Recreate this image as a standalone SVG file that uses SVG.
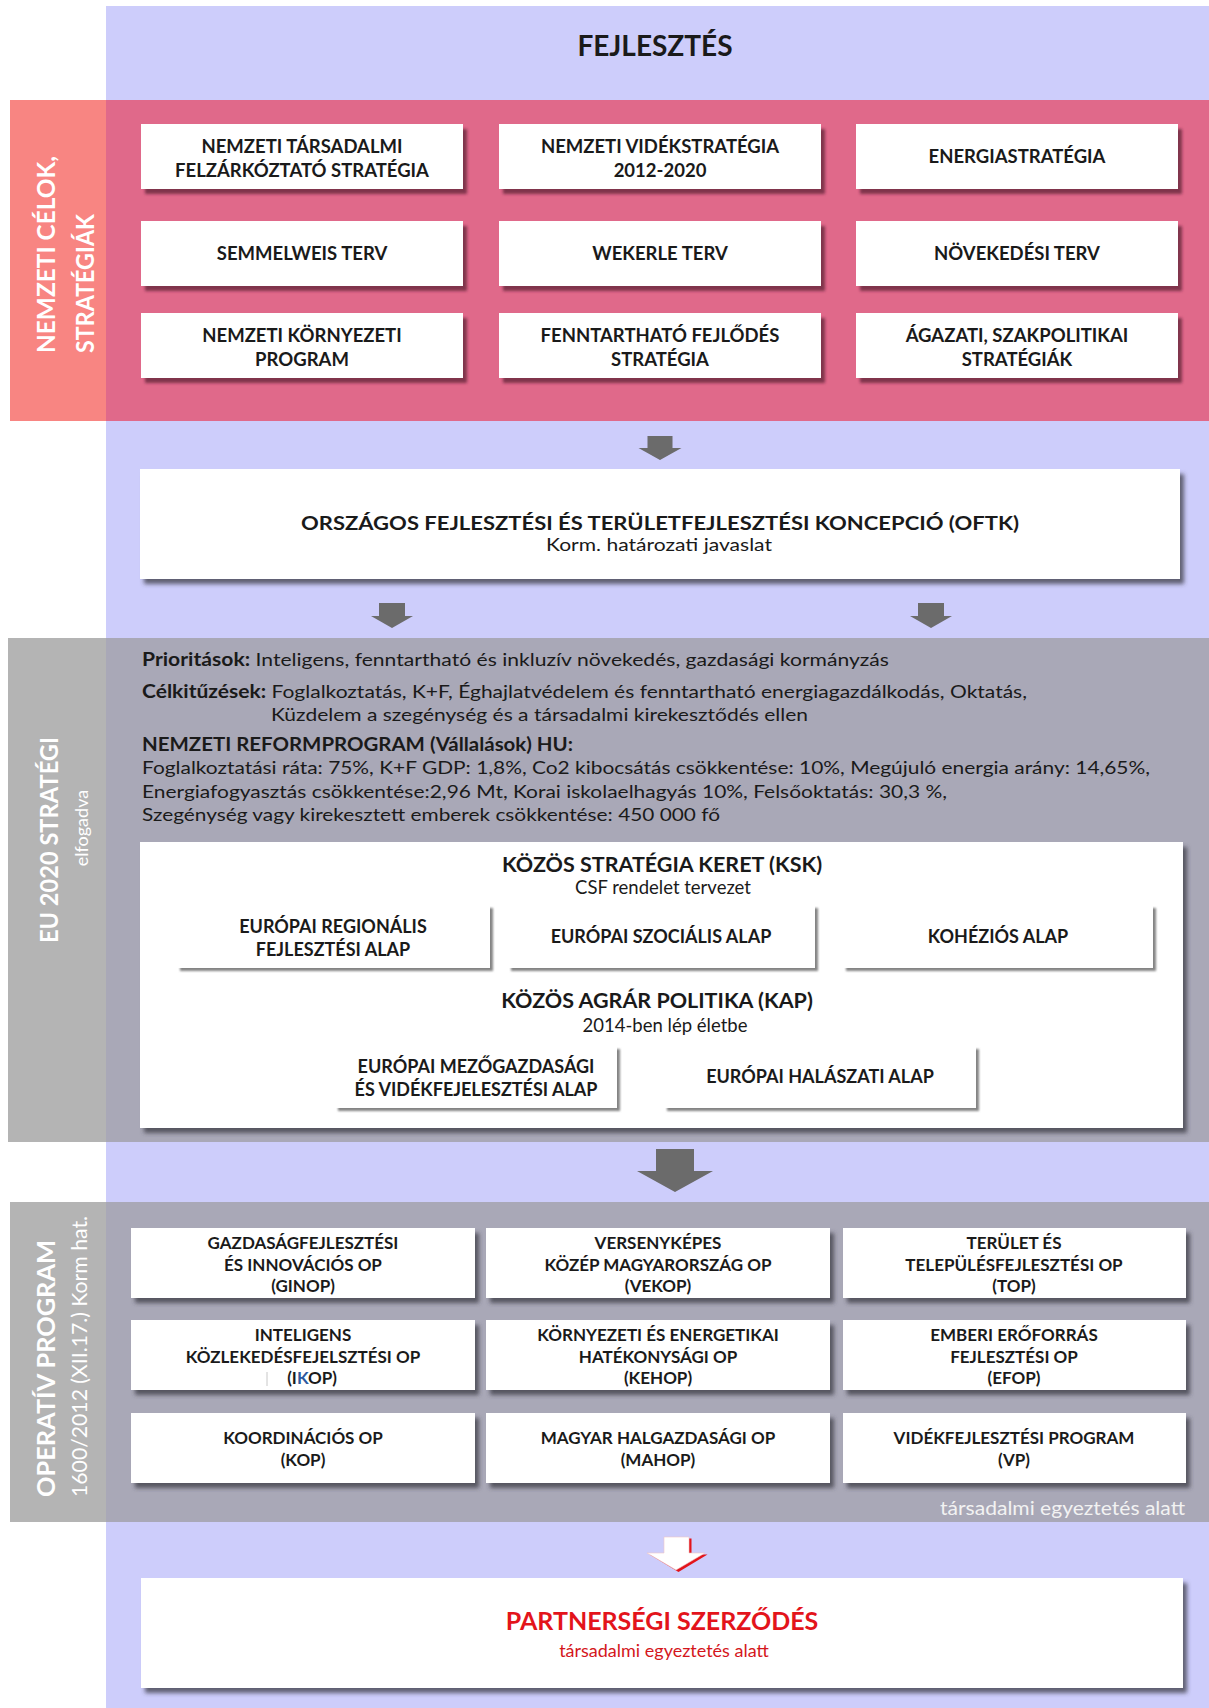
<svg xmlns="http://www.w3.org/2000/svg" width="1209" height="1708" viewBox="0 0 1209 1708">
<defs>
<style>
text{font-family:Lato,"Open Sans","Liberation Sans",sans-serif;fill:#1a1a1a}
.b{font-weight:bold}
.pt{font-size:18.5px;font-weight:bold;text-anchor:middle}
.ot{font-size:17px;font-weight:bold;text-anchor:middle}
.kt{font-size:18px;font-weight:bold;text-anchor:middle}
.et{font-size:18px}
.lab{fill:#ffffff}
.pbox{fill:#ffffff;filter:url(#shP)}
.gbox{fill:#ffffff;filter:url(#shG)}
.ibox{fill:#ffffff;filter:url(#shI)}
.arr{fill:#6b6b6b}
</style>
<filter id="shP" x="-5%" y="-10%" width="115%" height="130%"><feDropShadow dx="4" dy="5" stdDeviation="1.6" flood-color="#5e2236" flood-opacity="0.75"/></filter>
<filter id="shG" x="-5%" y="-10%" width="115%" height="130%"><feDropShadow dx="4" dy="5" stdDeviation="2" flood-color="#3a3a44" flood-opacity="0.75"/></filter>
<filter id="shI" x="-5%" y="-10%" width="115%" height="130%"><feDropShadow dx="3" dy="3" stdDeviation="1.3" flood-color="#666666" flood-opacity="0.8"/></filter>
</defs>

<g id="background">
<rect x="106" y="6" width="1103" height="1702" fill="#cdcdfb"/>
<rect x="10" y="100" width="96" height="321" fill="#f88582"/>
<rect x="106" y="100" width="1103" height="321" fill="#e0698a"/>
<rect x="8" y="638" width="98" height="504" fill="#b4b4b4"/>
<rect x="106" y="638" width="1103" height="504" fill="#a9a8b7"/>
<rect x="10" y="1202" width="96" height="320" fill="#b4b4b4"/>
<rect x="106" y="1202" width="1103" height="320" fill="#a9a8b7"/>
</g>

<g id="title">
<text x="655" y="56" class="b" font-size="28" text-anchor="middle">FEJLESZTÉS</text>
</g>

<g id="side-labels">
<text class="lab b" font-size="25" transform="translate(55,353) rotate(-90)" textLength="197" lengthAdjust="spacingAndGlyphs">NEMZETI CÉLOK,</text>
<text class="lab b" font-size="25" transform="translate(94,353) rotate(-90)" textLength="139" lengthAdjust="spacingAndGlyphs">STRATÉGIÁK</text>
<text class="lab b" font-size="25" text-anchor="middle" transform="translate(58,840) rotate(-90)" textLength="206" lengthAdjust="spacingAndGlyphs">EU 2020 STRATÉGI</text>
<text class="lab" font-size="18" text-anchor="middle" transform="translate(88,828) rotate(-90)">elfogadva</text>
<text class="lab b" font-size="25" transform="translate(55,1497) rotate(-90)" textLength="257" lengthAdjust="spacingAndGlyphs">OPERATÍV PROGRAM</text>
<text class="lab" font-size="21" transform="translate(87,1497) rotate(-90)" textLength="281" lengthAdjust="spacingAndGlyphs">1600/2012 (XII.17.) Korm hat.</text>
</g>

<g id="national-strategies">
<g id="n-nemzeti-tarsadalmi"><rect class="pbox" x="141" y="124" width="322" height="65"/><text class="pt" x="302" y="152.5">NEMZETI TÁRSADALMI</text><text class="pt" x="302" y="177">FELZÁRKÓZTATÓ STRATÉGIA</text></g>
<g id="n-videkstrategia"><rect class="pbox" x="499" y="124" width="322" height="65"/><text class="pt" x="660" y="152.5">NEMZETI VIDÉKSTRATÉGIA</text><text class="pt" x="660" y="177">2012-2020</text></g>
<g id="n-energiastrategia"><rect class="pbox" x="856" y="124" width="322" height="65"/><text class="pt" x="1017" y="163">ENERGIASTRATÉGIA</text></g>
<g id="n-semmelweis"><rect class="pbox" x="141" y="221" width="322" height="65"/><text class="pt" x="302" y="260">SEMMELWEIS TERV</text></g>
<g id="n-wekerle"><rect class="pbox" x="499" y="221" width="322" height="65"/><text class="pt" x="660" y="260">WEKERLE TERV</text></g>
<g id="n-novekedesi"><rect class="pbox" x="856" y="221" width="322" height="65"/><text class="pt" x="1017" y="260">NÖVEKEDÉSI TERV</text></g>
<g id="n-kornyezeti"><rect class="pbox" x="141" y="313" width="322" height="65"/><text class="pt" x="302" y="341.5">NEMZETI KÖRNYEZETI</text><text class="pt" x="302" y="366">PROGRAM</text></g>
<g id="n-fenntarthato"><rect class="pbox" x="499" y="313" width="322" height="65"/><text class="pt" x="660" y="341.5">FENNTARTHATÓ FEJLŐDÉS</text><text class="pt" x="660" y="366">STRATÉGIA</text></g>
<g id="n-agazati"><rect class="pbox" x="856" y="313" width="322" height="65"/><text class="pt" x="1017" y="341.5">ÁGAZATI, SZAKPOLITIKAI</text><text class="pt" x="1017" y="366">STRATÉGIÁK</text></g>
</g>

<g id="connectors">
<path class="arr" d="M647.5,436 H672.5 V448 H681.5 L660,460 L638.5,448 H647.5 Z"/>
<path class="arr" d="M379,603 H405 V616 H413 L392,628 L371,616 H379 Z"/>
<path class="arr" d="M918,603 H944 V616 H952 L931,628 L910,616 H918 Z"/>
<path class="arr" d="M656,1149 H694 V1171 H713 L675,1192 L637,1171 H656 Z"/>
<path fill="#e3141b" d="M666.5,1538.5 H691.5 V1554.5 H707.5 L678.5,1572 L649.5,1554.5 H666.5 Z"/>
<path fill="#ffffff" stroke="#f0c8c8" stroke-width="0.6" d="M664,1537 H689 V1553 H705 L676,1570 L647,1553 H664 Z"/>
</g>

<g id="oftk">
<rect class="gbox" x="140" y="469" width="1040" height="110"/>
<text x="660" y="530" class="b" font-size="19.5" text-anchor="middle" textLength="718" lengthAdjust="spacingAndGlyphs">ORSZÁGOS FEJLESZTÉSI ÉS TERÜLETFEJLESZTÉSI KONCEPCIÓ (OFTK)</text>
<text x="659" y="551" font-size="17.5" text-anchor="middle" textLength="226" lengthAdjust="spacingAndGlyphs">Korm. határozati javaslat</text>
</g>

<g id="eu2020-text">
<text class="et" x="142" y="666" textLength="747" lengthAdjust="spacingAndGlyphs"><tspan class="b">Prioritások:</tspan> Inteligens, fenntartható és inkluzív növekedés, gazdasági kormányzás</text>
<text class="et" x="142" y="698" textLength="885" lengthAdjust="spacingAndGlyphs"><tspan class="b">Célkitűzések:</tspan> Foglalkoztatás, K+F, Éghajlatvédelem és fenntartható energiagazdálkodás, Oktatás,</text>
<text class="et" x="271" y="721" textLength="537" lengthAdjust="spacingAndGlyphs">Küzdelem a szegénység és a társadalmi kirekesztődés ellen</text>
<text class="et b" x="142" y="751" textLength="431" lengthAdjust="spacingAndGlyphs">NEMZETI REFORMPROGRAM (Vállalások) HU:</text>
<text class="et" x="142" y="774" textLength="1008" lengthAdjust="spacingAndGlyphs">Foglalkoztatási ráta: 75%, K+F GDP: 1,8%, Co2 kibocsátás csökkentése: 10%, Megújuló energia arány: 14,65%,</text>
<text class="et" x="142" y="798" textLength="805" lengthAdjust="spacingAndGlyphs">Energiafogyasztás csökkentése:2,96 Mt, Korai iskolaelhagyás 10%, Felsőoktatás: 30,3 %,</text>
<text class="et" x="142" y="821" textLength="578" lengthAdjust="spacingAndGlyphs">Szegénység vagy kirekesztett emberek csökkentése: 450 000 fő</text>
</g>

<g id="ksk">
<rect class="gbox" x="140" y="842" width="1043" height="286"/>
<text x="662" y="872" class="b" font-size="21.5" text-anchor="middle">KÖZÖS STRATÉGIA KERET (KSK)</text>
<text x="663" y="894" font-size="18.5" text-anchor="middle">CSF rendelet tervezet</text>
<g id="f-erfa"><rect class="ibox" x="177" y="905" width="313" height="63"/><text class="kt" x="333" y="933">EURÓPAI REGIONÁLIS</text><text class="kt" x="333" y="956">FEJLESZTÉSI ALAP</text></g>
<g id="f-esza"><rect class="ibox" x="508" y="905" width="307" height="63"/><text class="kt" x="661" y="943">EURÓPAI SZOCIÁLIS ALAP</text></g>
<g id="f-ka"><rect class="ibox" x="843" y="905" width="310" height="63"/><text class="kt" x="998" y="943">KOHÉZIÓS ALAP</text></g>
<text x="657" y="1008" class="b" font-size="21.5" text-anchor="middle">KÖZÖS AGRÁR POLITIKA (KAP)</text>
<text x="665" y="1032" font-size="18.5" text-anchor="middle">2014-ben lép életbe</text>
<g id="f-emva"><rect class="ibox" x="335" y="1046" width="282" height="62"/><text class="kt" x="476" y="1073">EURÓPAI MEZŐGAZDASÁGI</text><text class="kt" x="476" y="1096">ÉS VIDÉKFEJELESZTÉSI ALAP</text></g>
<g id="f-eha"><rect class="ibox" x="664" y="1046" width="312" height="62"/><text class="kt" x="820" y="1083">EURÓPAI HALÁSZATI ALAP</text></g>
</g>

<g id="operative-programs">
<g id="op-ginop"><rect class="gbox" x="131" y="1228" width="344" height="70"/><text class="ot" x="303" y="1249">GAZDASÁGFEJLESZTÉSI</text><text class="ot" x="303" y="1271">ÉS INNOVÁCIÓS OP</text><text class="ot" x="303" y="1292">(GINOP)</text></g>
<g id="op-vekop"><rect class="gbox" x="486" y="1228" width="344" height="70"/><text class="ot" x="658" y="1249">VERSENYKÉPES</text><text class="ot" x="658" y="1271">KÖZÉP MAGYARORSZÁG OP</text><text class="ot" x="658" y="1292">(VEKOP)</text></g>
<g id="op-top"><rect class="gbox" x="843" y="1228" width="343" height="70"/><text class="ot" x="1014" y="1249">TERÜLET ÉS</text><text class="ot" x="1014" y="1271">TELEPÜLÉSFEJLESZTÉSI OP</text><text class="ot" x="1014" y="1292">(TOP)</text></g>
<g id="op-ikop"><rect class="gbox" x="131" y="1320" width="344" height="70"/><text class="ot" x="303" y="1341">INTELIGENS</text><text class="ot" x="303" y="1363">KÖZLEKEDÉSFEJELSZTÉSI OP</text><line x1="267" y1="1372" x2="267" y2="1386" stroke="#c8c8c8" stroke-width="1"/><text class="ot" x="312" y="1384">(I<tspan fill="#2c5aa0">K</tspan>OP)</text></g>
<g id="op-kehop"><rect class="gbox" x="486" y="1320" width="344" height="70"/><text class="ot" x="658" y="1341">KÖRNYEZETI ÉS ENERGETIKAI</text><text class="ot" x="658" y="1363">HATÉKONYSÁGI OP</text><text class="ot" x="658" y="1384">(KEHOP)</text></g>
<g id="op-efop"><rect class="gbox" x="843" y="1320" width="343" height="70"/><text class="ot" x="1014" y="1341">EMBERI ERŐFORRÁS</text><text class="ot" x="1014" y="1363">FEJLESZTÉSI OP</text><text class="ot" x="1014" y="1384">(EFOP)</text></g>
<g id="op-kop"><rect class="gbox" x="131" y="1413" width="344" height="70"/><text class="ot" x="303" y="1444">KOORDINÁCIÓS OP</text><text class="ot" x="303" y="1466">(KOP)</text></g>
<g id="op-mahop"><rect class="gbox" x="486" y="1413" width="344" height="70"/><text class="ot" x="658" y="1444">MAGYAR HALGAZDASÁGI OP</text><text class="ot" x="658" y="1466">(MAHOP)</text></g>
<g id="op-vp"><rect class="gbox" x="843" y="1413" width="343" height="70"/><text class="ot" x="1014" y="1444">VIDÉKFEJLESZTÉSI PROGRAM</text><text class="ot" x="1014" y="1466">(VP)</text></g>
<text x="1185" y="1515" font-size="19.5" text-anchor="end" style="fill:#f2f2f2" textLength="245" lengthAdjust="spacingAndGlyphs">társadalmi egyeztetés alatt</text>
</g>

<g id="partnerseg">
<rect class="gbox" x="141" y="1578" width="1042" height="110"/>
<text x="662" y="1630" class="b" font-size="25" text-anchor="middle" style="fill:#e3141b">PARTNERSÉGI SZERZŐDÉS</text>
<text x="664" y="1657" font-size="18" text-anchor="middle" style="fill:#d4161c">társadalmi egyeztetés alatt</text>
</g>
</svg>
